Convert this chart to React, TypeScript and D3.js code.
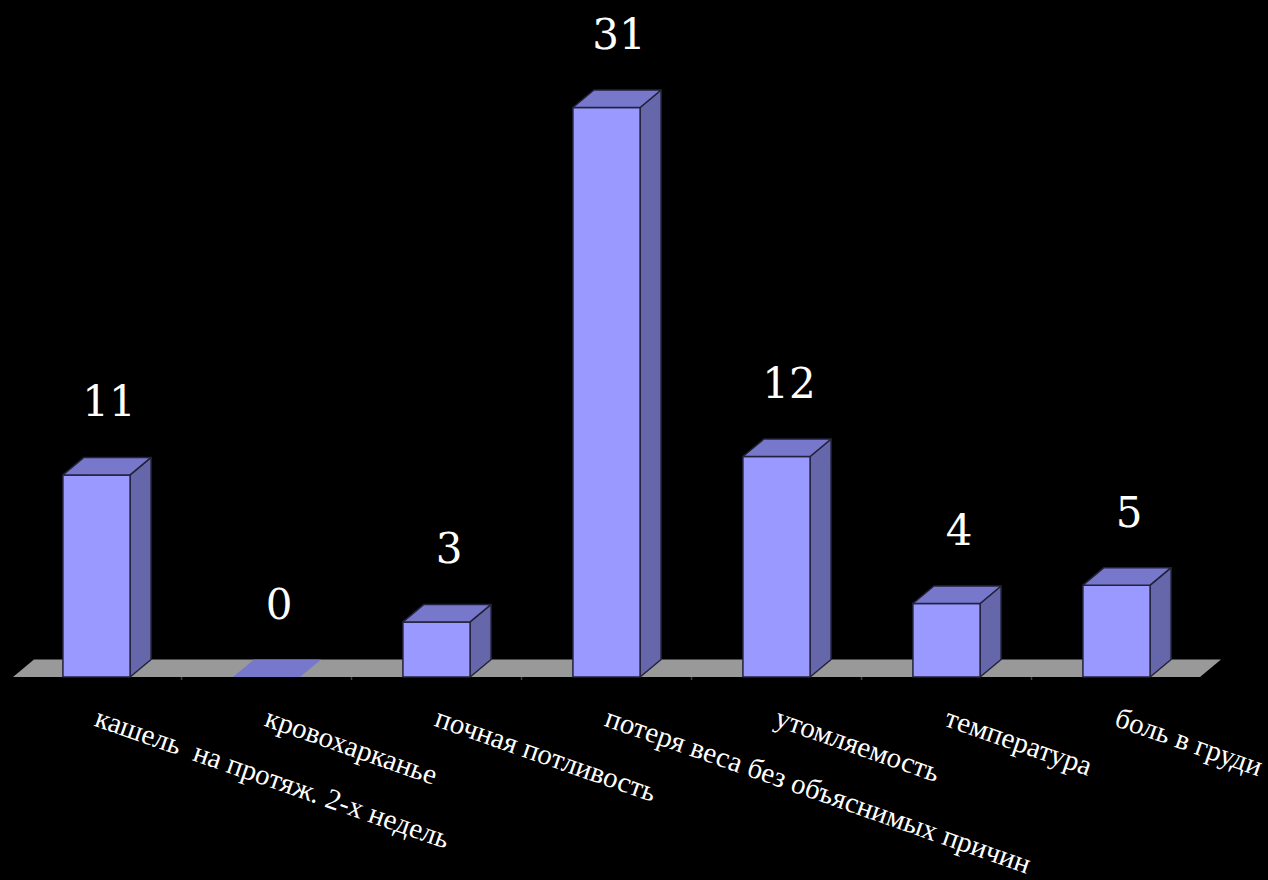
import React from "react";
import * as d3 from "d3";

const categories: string[] = [
  "кашель  на протяж. 2-х недель",
  "кровохарканье",
  "почная потливость",
  "потеря веса без объяснимых причин",
  "утомляемость",
  "температура",
  "боль в груди",
];
const values: number[] = [11, 0, 3, 31, 12, 4, 5];
const yDomainMax = 35;

const W = 1268;
const H = 880;
const plotLeft = 11.5;
const plotRight = 1201.5;
const baseY = 677;
const topY = 34;
const DX = 21;
const DY = 17.5;

export default function App() {
  const x = d3.scaleBand<string>().domain(categories).range([plotLeft, plotRight]).paddingInner(0.605).paddingOuter(0.3025);
  const y = d3.scaleLinear().domain([0, yDomainMax]).range([baseY, topY]);
  const bw = x.bandwidth();
  const step = x.step();
  const floorPts = [
    [plotLeft + 1.5, baseY],
    [plotRight - 1.5, baseY],
    [plotRight - 1.5 + DX, baseY - DY],
    [plotLeft + 1.5 + DX, baseY - DY],
  ];
  const line = d3.line();
  const stroke = "#22223a";
  return (
    <div style={{ position: "fixed", left: 0, top: 0, width: W, height: H, background: "#000" }}>
      <svg width={W} height={H} style={{ display: "block", background: "#000" }}>
        <path d={line(floorPts as [number, number][]) + "Z"} fill="#999999" />
        {categories.map((c, i) => {
          const bx = plotLeft + step * i;
          return i > 0 ? (
            <line key={"t" + i} x1={bx} x2={bx} y1={baseY} y2={baseY + 3} stroke="#444" strokeWidth={1.5} />
          ) : null;
        })}
        {categories.map((c, i) => {
          const x0 = x(c)!;
          const x1 = x0 + bw;
          const yt = y(values[i]);
          const front: [number, number][] = [[x0, baseY], [x1, baseY], [x1, yt], [x0, yt]];
          const side: [number, number][] = [[x1, baseY], [x1 + DX, baseY - DY], [x1 + DX, yt - DY], [x1, yt]];
          const top: [number, number][] = [[x0, yt], [x1, yt], [x1 + DX, yt - DY], [x0 + DX, yt - DY]];
          const h = baseY - yt;
          return (
            <g key={c}>
              {h > 0.5 && <path d={line(side) + "Z"} fill="#6666aa" stroke={stroke} strokeWidth={1.5} strokeLinejoin="round" />}
              {h > 0.5 && <path d={line(front) + "Z"} fill="#9999ff" stroke={stroke} strokeWidth={1.5} strokeLinejoin="round" />}
              <path d={line(top) + "Z"} fill="#7777cc" stroke={h > 0.5 ? stroke : "none"} strokeWidth={1.5} strokeLinejoin="round" />
              <text
                x={x0 + bw / 2 + DX / 2 + 2}
                y={yt - DY - 41}
                textAnchor="middle"
                fill="#fff"
                fontFamily="'DejaVu Serif', serif"
                fontSize={42}
              >
                {values[i]}
              </text>
            </g>
          );
        })}
        {categories.map((c, i) => {
          const cx = x(c)! + bw / 2;
          return (
            <text
              key={"l" + i}
              transform={`translate(${cx + 4},${705}) rotate(19.3)`}
              dy="0.75em"
              fill="#fff"
              fontFamily="'Liberation Serif', 'Times New Roman', serif"
              fontSize={29}
              style={{ whiteSpace: "pre" }}
            >
              {c}
            </text>
          );
        })}
      </svg>
    </div>
  );
}
